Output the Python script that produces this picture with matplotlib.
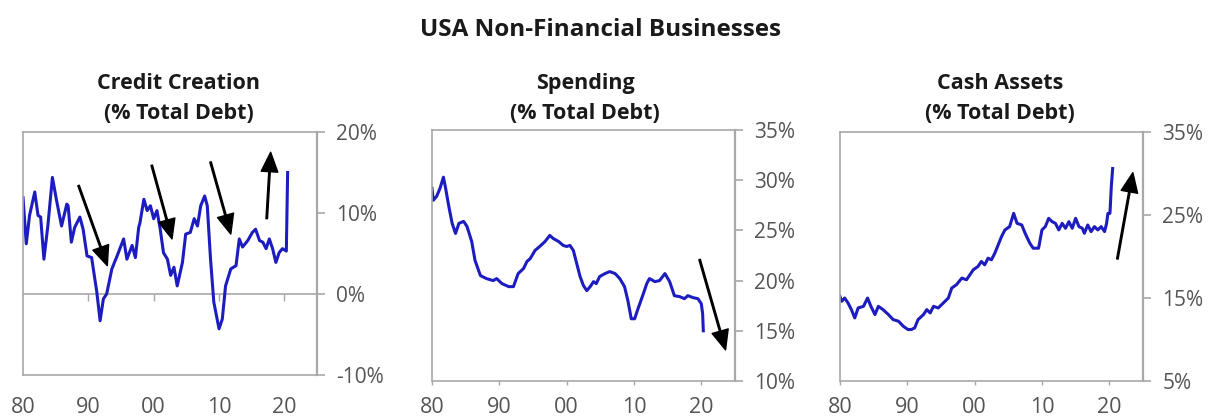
import matplotlib
matplotlib.use("Agg")
import matplotlib.pyplot as plt
from matplotlib.ticker import FuncFormatter

plt.rcParams["font.family"] = ["Open Sans", "DejaVu Sans"]

# Credit creation (% total debt)
credit_years = [1980.0, 1980.5, 1981.0, 1981.8, 1982.3, 1982.7, 1983.2, 1983.8, 1984.5, 1985.1,
                1985.9, 1986.7, 1986.9, 1987.4, 1987.9, 1988.7, 1989.2, 1989.8, 1990.5, 1991.3,
                1991.8, 1992.3, 1992.8, 1993.6, 1994.4, 1995.4, 1995.9, 1996.7, 1997.2, 1997.7,
                1997.9, 1998.5, 1999.0, 1999.5, 2000.0, 2000.5, 2001.0, 2001.5, 2002.1, 2002.6,
                2003.1, 2003.6, 2004.4, 2004.9, 2005.6, 2006.2, 2006.7, 2007.2, 2007.8, 2008.2,
                2008.7, 2009.2, 2010.0, 2010.5, 2011.0, 2011.8, 2012.6, 2013.1, 2013.6, 2014.4,
                2015.1, 2015.6, 2016.2, 2016.7, 2017.2, 2017.7, 2018.2, 2018.7, 2019.2, 2019.7,
                2020.3, 2020.5]
credit_vals = [11.9, 6.2, 9.7, 12.6, 9.7, 9.5, 4.3, 8.4, 14.4, 11.7,
               8.4, 11.1, 10.9, 6.4, 8.2, 9.5, 8.0, 4.7, 4.5, 0.2,
               -3.3, -0.6, 0.0, 3.1, 4.7, 6.8, 4.3, 6.0, 4.5, 8.2,
               8.8, 11.7, 10.3, 10.9, 9.3, 10.3, 8.0, 5.1, 4.3, 2.3,
               3.3, 1.0, 3.9, 7.4, 7.6, 9.3, 8.4, 10.9, 12.1, 10.9,
               4.3, -1.0, -4.3, -3.1, 1.0, 3.1, 3.5, 6.8, 5.8, 6.6,
               7.6, 8.0, 6.6, 6.4, 5.6, 6.8, 5.6, 3.9, 5.1, 5.6,
               5.3, 15.0]

# Spending (% total debt)
spend_years = [1980.0, 1980.2, 1980.7, 1981.2, 1981.7, 1982.0, 1982.5, 1983.0, 1983.5, 1984.0,
               1984.7, 1985.2, 1985.9, 1986.4, 1987.2, 1988.1, 1989.1, 1989.6, 1990.4, 1991.4,
               1992.1, 1992.8, 1993.6, 1994.1, 1994.6, 1995.3, 1996.0, 1996.8, 1997.5, 1998.0,
               1998.8, 1999.5, 2000.0, 2000.5, 2001.0, 2001.5, 2002.0, 2002.5, 2003.0, 2003.5,
               2004.0, 2004.4, 2004.9, 2005.7, 2006.4, 2007.2, 2007.9, 2008.6, 2009.1, 2009.6,
               2010.1, 2010.6, 2011.4, 2011.9, 2012.3, 2013.1, 2013.8, 2014.6, 2015.3, 2016.0,
               2016.8, 2017.5, 2018.0, 2018.8, 2019.5, 2020.0, 2020.2, 2020.3]
spend_vals = [29.2, 28.0, 28.4, 29.2, 30.3, 29.3, 27.4, 25.7, 24.7, 25.7,
              25.9, 25.4, 23.9, 22.0, 20.5, 20.2, 20.0, 20.2, 19.7, 19.4,
              19.4, 20.7, 21.2, 21.9, 22.2, 23.0, 23.4, 23.9, 24.5, 24.2,
              23.9, 23.5, 23.4, 23.5, 23.0, 21.7, 20.4, 19.5, 19.0, 19.4,
              19.9, 19.7, 20.4, 20.7, 20.9, 20.7, 20.2, 19.4, 18.0, 16.2,
              16.2, 17.2, 18.7, 19.7, 20.2, 19.9, 20.0, 20.7, 19.9, 18.5,
              18.4, 18.2, 18.5, 18.3, 18.2, 17.7, 16.7, 15.0]

# Cash assets (% total debt)
cash_years = [1980.0, 1980.25, 1980.7, 1981.2, 1981.7, 1982.2, 1982.7, 1983.5, 1984.1, 1984.6,
              1985.2, 1985.7, 1986.4, 1987.2, 1987.9, 1988.7, 1989.4, 1990.1, 1990.6, 1991.1,
              1991.6, 1992.4, 1992.9, 1993.4, 1993.9, 1994.6, 1995.1, 1995.6, 1996.1, 1996.6,
              1997.3, 1998.1, 1998.8, 1999.3, 1999.8, 2000.5, 2001.0, 2001.5, 2002.0, 2002.5,
              2003.0, 2003.5, 2004.0, 2004.5, 2005.2, 2005.8, 2006.3, 2007.0, 2007.5, 2008.2,
              2008.7, 2009.5, 2010.0, 2010.5, 2011.0, 2011.5, 2012.0, 2012.5, 2013.0, 2013.5,
              2014.0, 2014.5, 2015.0, 2015.5, 2016.0, 2016.3, 2016.8, 2017.3, 2017.8, 2018.3,
              2018.8, 2019.3, 2019.6, 2019.8, 2020.1, 2020.3, 2020.5]
cash_vals = [15.2, 14.6, 15.0, 14.4, 13.6, 12.6, 13.8, 14.0, 15.0, 14.0,
             13.0, 14.0, 13.6, 13.0, 12.4, 12.2, 11.6, 11.2, 11.2, 11.4,
             12.4, 13.0, 13.6, 13.2, 14.0, 13.8, 14.2, 14.6, 15.0, 16.2,
             16.6, 17.4, 17.2, 17.8, 18.4, 18.8, 19.4, 19.0, 19.8, 19.6,
             20.4, 21.4, 22.4, 23.2, 23.6, 25.2, 24.0, 23.8, 22.8, 21.6,
             21.0, 21.0, 23.2, 23.6, 24.6, 24.2, 24.0, 23.2, 24.0, 23.4,
             24.2, 23.4, 24.6, 23.6, 23.4, 22.8, 23.8, 23.0, 23.6, 23.2,
             23.6, 23.0, 24.0, 25.2, 25.2, 28.4, 30.6]

# arrows: (start year, start value, end year, end value)
credit_arrows = [(1988.5, 13.4, 1992.9, 3.5), (1999.7, 15.9, 2002.8, 6.8),
                 (2008.7, 16.3, 2011.8, 7.4), (2017.3, 9.3, 2017.9, 17.5)]
spend_arrows = [(2019.75, 22.1, 2023.6, 13.1)]
cash_arrows = [(2021.2, 19.7, 2023.5, 30.1)]

LINE_COLOR = "#1c1cc0"
GREY = "#a8a8a8"
TICK_TEXT = "#555555"
TITLE_COLOR = "#1a1a1a"

panels = [
    ("Credit Creation", credit_years, credit_vals, credit_arrows,
     (-10, 20), [-10, 0, 10, 20], [0.019, 0.0986, 0.2428, 0.584], 0.007),
    ("Spending", spend_years, spend_vals, spend_arrows,
     (10, 35), [10, 15, 20, 25, 30, 35], [0.3567, 0.0841, 0.2502, 0.6034], 0.0015),
    ("Cash Assets", cash_years, cash_vals, cash_arrows,
     (5, 35), [5, 15, 25, 35], [0.6936, 0.0841, 0.2502, 0.5986], 0.007),
]

fig = plt.figure(figsize=(12.11, 4.16), dpi=100)
fig.text(0.4955, 0.928, "USA Non-Financial Businesses", ha="center", va="center",
         fontsize=17.5, fontweight="bold", color=TITLE_COLOR)

for name, xs, ys, arrows, ylim, yticks, rect, dx in panels:
    ax = fig.add_axes(rect)
    ax.plot(xs, ys, color=LINE_COLOR, linewidth=2.2, solid_joinstyle="round")
    ax.set_xlim(1980, 2025)
    ax.set_ylim(*ylim)
    ax.set_xticks([1980, 1990, 2000, 2010, 2020])
    ax.xaxis.set_major_formatter(FuncFormatter(lambda v, p: f"{int(round(v)) % 100:02d}"))
    ax.set_yticks(yticks)
    ax.yaxis.set_major_formatter(FuncFormatter(lambda v, p: f"{int(v)}%"))
    ax.yaxis.tick_right()
    for sp in ax.spines.values():
        sp.set_color(GREY)
        sp.set_linewidth(1.2)
    ax.spines["right"].set_linewidth(1.6)
    ax.tick_params(axis="y", direction="out", length=6, width=1.2, color=GREY,
                   labelcolor=TICK_TEXT, labelsize=15, pad=8)
    ax.tick_params(axis="x", direction="out", length=3, width=1.0, color=GREY,
                   labelcolor=TICK_TEXT, labelsize=15.5, pad=8.5)

    if ylim[0] < 0:
        # zero line carries the year ticks
        ax.axhline(0, color=GREY, linewidth=1.2, zorder=1)
        zero = (0 - ylim[0]) / (ylim[1] - ylim[0])
        sec = ax.secondary_xaxis(zero)
        sec.set_xticks([1990, 2000, 2010, 2020])
        sec.tick_params(axis="x", direction="out", length=5, width=1.0, color=GREY,
                        labelbottom=False, labeltop=False, bottom=True, top=False)
        sec.spines["bottom"].set_visible(False)
        sec.spines["top"].set_visible(False)
        ax.tick_params(axis="x", length=0, pad=16)

    for x0, y0, x1, y1 in arrows:
        ax.annotate("", xy=(x1, y1), xytext=(x0, y0),
                    arrowprops=dict(width=1.1, headwidth=12, headlength=14,
                                    facecolor="black", edgecolor="black", shrink=0),
                    annotation_clip=False)

    cx = rect[0] + rect[2] / 2 + dx
    fig.text(cx, 0.80, name, ha="center", va="center", fontsize=15.5, fontweight="bold",
             color=TITLE_COLOR)
    fig.text(cx, 0.726, "(% Total Debt)", ha="center", va="center", fontsize=15.5,
             fontweight="bold", color=TITLE_COLOR)

fig.savefig("out.png", dpi=100)
